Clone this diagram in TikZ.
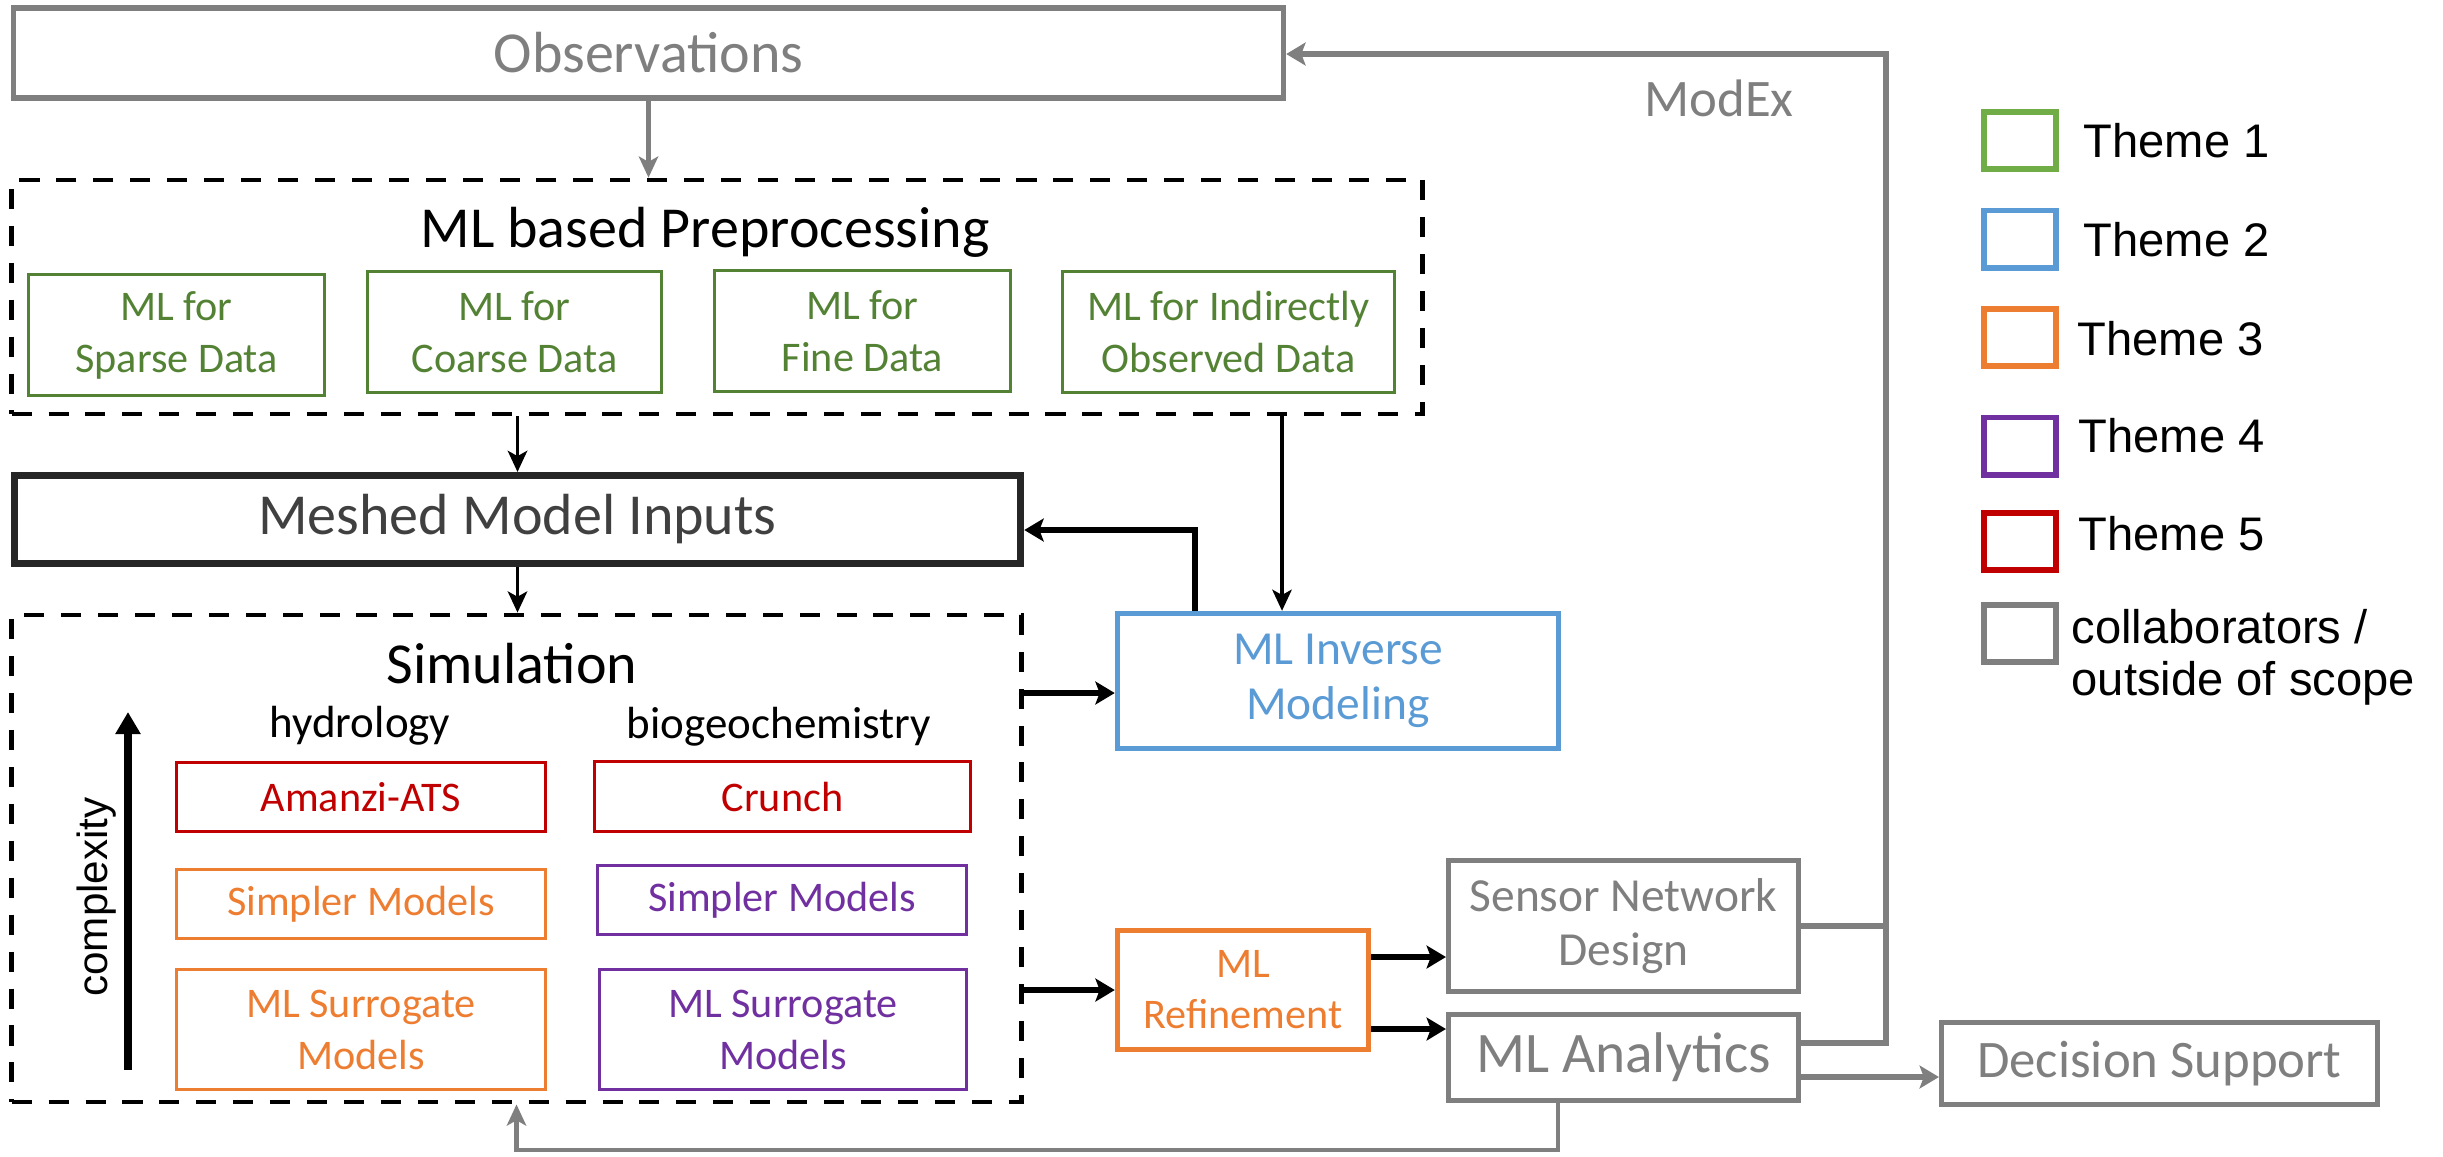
\documentclass[tikz,border=0pt]{standalone}
\usepackage{fontspec}
\setmainfont{Carlito}
\newfontfamily\arialf{Liberation Sans}
\usetikzlibrary{arrows.meta}
\definecolor{cgreen}{HTML}{548235}
\definecolor{lgreen}{HTML}{70AD47}
\definecolor{cblue}{HTML}{5B9BD5}
\definecolor{corange}{HTML}{ED7D31}
\definecolor{cpurple}{HTML}{7030A0}
\definecolor{cred}{HTML}{C00000}
\definecolor{cgray}{HTML}{7F7F7F}
\definecolor{cdark}{HTML}{262626}
\definecolor{cdtext}{HTML}{404040}
\begin{document}
\begin{tikzpicture}[x=0.01cm,y=-0.01cm,
  box/.style={draw, rectangle, inner sep=0pt, align=center},
  gbox/.style={box, draw=cgreen, text=cgreen, line width=0.85pt, font=\fontsize{12}{14.8}\selectfont},
  mbox/.style={box, line width=0.95pt, font=\fontsize{12}{14.8}\selectfont},
  graybox/.style={box, draw=cgray, text=cgray, line width=1.4pt},
  dbox/.style={draw=black, rectangle, inner sep=0pt, line width=1.3pt, dash pattern=on 5.7pt off 4.8pt},
  legbox/.style={draw, rectangle, inner sep=0pt, line width=1.7pt, minimum width=0.72cm, minimum height=0.57cm},
  legtext/.style={inner sep=0pt, font=\arialf\fontsize{13.4}{14.8}\selectfont},
  thinarrow/.style={draw=black, line width=1.1pt, -{Stealth[length=6pt,width=5.5pt,inset=1.5pt]}},
  thickarrow/.style={draw=black, line width=1.7pt, -{Stealth[length=5.5pt,width=6.5pt,inset=1.2pt]}},
  grayline/.style={draw=cgray, line width=1.7pt},
  grayarrow/.style={grayline, -{Stealth[length=5.5pt,width=6.5pt,inset=1.2pt]}},
  title/.style={inner sep=0pt, anchor=base, font=\fontsize{16.5}{20}\selectfont}
]
\useasboundingbox (0,0) rectangle (2443,1156);

% Observations
\node[graybox, line width=1.6pt, minimum width=12.69cm, minimum height=0.90cm,
      font=\fontsize{16.5}{20}\selectfont] (obs) at (648.5,53) {Observations};
\node[inner sep=0pt, text=cgray, font=\fontsize{15}{18}\selectfont] (modex) at (1719,98) {ModEx};

% Preprocessing
\node[dbox, minimum width=14.10cm, minimum height=2.34cm] (pre) at (717,297) {};
\node[title] (pretitle) at (705,247) {ML based Preprocessing};
\node[gbox, minimum width=2.96cm, minimum height=1.21cm] (g1) at (176.5,335) {ML for\\Sparse Data};
\node[gbox, minimum width=2.94cm, minimum height=1.21cm] (g2) at (514.5,332) {ML for\\Coarse Data};
\node[gbox, minimum width=2.96cm, minimum height=1.21cm] (g3) at (862.5,331) {ML for\\Fine Data};
\node[gbox, minimum width=3.32cm, minimum height=1.21cm] (g4) at (1228.5,332) {ML for Indirectly\\Observed Data};

% Meshed Model Inputs
\node[box, draw=cdark, text=cdtext, line width=2pt, minimum width=10.06cm, minimum height=0.88cm,
      font=\fontsize{16.5}{20}\selectfont] (mesh) at (517.5,519.5) {Meshed Model Inputs};

% Simulation
\node[dbox, minimum width=10.09cm, minimum height=4.87cm] (sim) at (516.5,858.5) {};
\node[title] (simtitle) at (512,683) {Simulation};
\node[inner sep=0pt, anchor=base, font=\fontsize{12.8}{15}\selectfont] (hyd) at (360,737) {hydrology};
\node[inner sep=0pt, anchor=base, font=\fontsize{12.8}{15}\selectfont] (bgc) at (779,738) {biogeochemistry};
\node[mbox, draw=cred, text=cred, minimum width=3.69cm, minimum height=0.69cm] (amanzi) at (361,797) {Amanzi-ATS};
\node[mbox, draw=cred, text=cred, minimum width=3.76cm, minimum height=0.70cm] (crunch) at (782.5,796.5) {Crunch};
\node[mbox, draw=corange, text=corange, minimum width=3.69cm, minimum height=0.69cm] (simpo) at (361,904) {Simpler Models};
\node[mbox, draw=cpurple, text=cpurple, minimum width=3.69cm, minimum height=0.69cm] (simpp) at (782,900) {Simpler Models};
\node[mbox, draw=corange, text=corange, minimum width=3.69cm, minimum height=1.20cm] (surro) at (361,1029.5) {ML Surrogate\\Models};
\node[mbox, draw=cpurple, text=cpurple, minimum width=3.67cm, minimum height=1.20cm] (surrp) at (783,1029.5) {ML Surrogate\\Models};
\node[inner sep=0pt, rotate=90, anchor=base, font=\arialf\fontsize{12}{14}\selectfont] (cplx) at (107,897) {complexity};
\coordinate (ca) at (128,1070);
\coordinate (cb) at (128,712);
\draw[line width=2pt, -{Triangle[length=0.22cm,width=0.24cm]}] (ca) -- (cb);

% right side boxes
\node[box, draw=cblue, text=cblue, line width=1.5pt, minimum width=4.41cm, minimum height=1.35cm,
      font=\fontsize{13.5}{15.6}\selectfont] (mlinv) at (1338,681) {ML Inverse\\Modeling};
\node[box, draw=corange, text=corange, line width=1.5pt, minimum width=2.51cm, minimum height=1.19cm,
      font=\fontsize{12}{14.5}\selectfont] (mlref) at (1243,990) {ML\\Refinement};
\node[graybox, minimum width=3.50cm, minimum height=1.31cm,
      font=\fontsize{13.5}{15.6}\selectfont] (sensor) at (1623.5,926) {Sensor Network\\Design};
\node[graybox, minimum width=3.50cm, minimum height=0.86cm,
      font=\fontsize{16.3}{20}\selectfont] (mlana) at (1623.5,1057.5) {ML Analytics};
\node[graybox, minimum width=4.36cm, minimum height=0.82cm,
      font=\fontsize{15}{18}\selectfont] (dec) at (2159.5,1063.5) {Decision Support};

% legend
\node[legbox, draw=lgreen] (l1) at (2020,140.5) {};
\node[legbox, draw=cblue] (l2) at (2020,239) {};
\node[legbox, draw=corange] (l3) at (2020,337.5) {};
\node[legbox, draw=cpurple] (l4) at (2020,446) {};
\node[legbox, draw=cred] (l5) at (2020,541.5) {};
\node[legbox, draw=cgray] (l6) at (2020,633) {};
\node[legtext, anchor=west] (t1) at (2083,141) {Theme 1};
\node[legtext, anchor=west] (t2) at (2083,240) {Theme 2};
\node[legtext, anchor=west] (t3) at (2077,339) {Theme 3};
\node[legtext, anchor=west] (t4) at (2078,436) {Theme 4};
\node[legtext, anchor=west] (t5) at (2078,534) {Theme 5};
\node[legtext, anchor=north west, align=left] (t6) at (2071,609) {collaborators /\\outside of scope};

% connectors
\coordinate (xb) at (1282,0);
\coordinate (xc) at (1195,530);
\coordinate (yd) at (0,693);
\coordinate (ye) at (0,957);
\coordinate (yf) at (0,1029);
\coordinate (yg) at (0,1077);
\coordinate (yh) at (0,1043);
\coordinate (xm) at (1886,54);
\coordinate (fb) at (1558,1150);

\draw[grayline, line width=1.4pt, -{Stealth[length=6pt,width=5.5pt,inset=1.5pt]}] (obs.south) -- (obs.south |- pre.north);
\draw[thinarrow] (pre.south -| mesh.north) -- (mesh.north);
\draw[thinarrow] (mesh.south) -- (mesh.south |- sim.north);
\draw[thinarrow] (pre.south -| xb) -- (mlinv.north -| xb);
\draw[thickarrow] (mlinv.north -| xc) -- (xc) -- (mesh.east |- xc);
\draw[thickarrow] (sim.east |- yd) -- (mlinv.west |- yd);
\draw[thickarrow] (sim.east |- mlref.west) -- (mlref.west);
\draw[thickarrow] (mlref.east |- ye) -- (sensor.west |- ye);
\draw[thickarrow] (mlref.east |- yf) -- (mlana.west |- yf);
\draw[grayarrow] (mlana.east |- yg) -- (dec.west |- yg);
\draw[grayline] (sensor.east) -- (sensor.east -| xm);
\draw[grayarrow] (mlana.east |- yh) -| (xm) -- (obs.east |- xm);
\draw[grayline, line width=1.4pt, -{Stealth[length=6pt,width=5.5pt,inset=1.5pt]}] (mlana.south -| fb) -- (fb) -- (sim.south |- fb) -- (sim.south);
\end{tikzpicture}
\end{document}
